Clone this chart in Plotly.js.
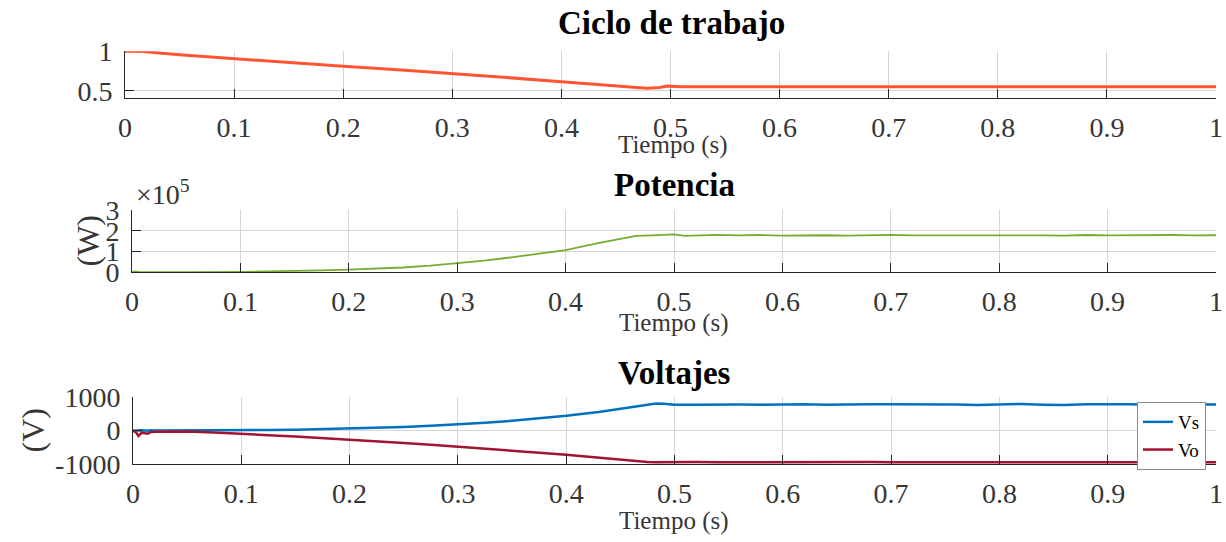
<!DOCTYPE html>
<html>
<head>
<meta charset="utf-8">
<script src="https://cdn.plot.ly/plotly-3.0.1.min.js"></script>
<style>
  html, body { margin: 0; padding: 0; background: #ffffff; }
  #chart { width: 1226px; height: 542px; }
</style>
</head>
<body>
<div id="chart"></div>
<script>
// ---- Duty cycle of the converter ----
const tDuty = [0, 0.016, 0.05, 0.1, 0.15, 0.2, 0.25, 0.3, 0.35, 0.4, 0.44, 0.465, 0.478, 0.49, 0.497, 0.51,
  0.543, 0.545, 0.55, 0.552, 0.6, 0.7, 0.743, 0.745, 0.748, 0.75, 0.779, 0.781, 0.788, 0.79,
  0.876, 0.878, 0.881, 0.883, 0.917, 0.919, 0.922, 0.928, 0.93, 0.933, 0.969, 0.971, 0.974, 0.976, 1.0];
const duty = [1.0, 0.998, 0.955, 0.905, 0.857, 0.81, 0.765, 0.72, 0.667, 0.614, 0.572, 0.545, 0.532, 0.54, 0.558, 0.551,
  0.551, 0.556, 0.556, 0.551, 0.551, 0.551, 0.551, 0.557, 0.557, 0.551, 0.551, 0.557, 0.557, 0.551,
  0.551, 0.557, 0.557, 0.551, 0.551, 0.557, 0.551, 0.551, 0.557, 0.551, 0.551, 0.557, 0.557, 0.551, 0.551];

// ---- Power (W) ----
const tPower = [0, 0.003, 0.008, 0.02, 0.05, 0.1, 0.125, 0.15, 0.175, 0.2, 0.225, 0.25, 0.275, 0.3, 0.325, 0.35, 0.375, 0.4, 0.43, 0.45, 0.465, 0.48, 0.49, 0.5, 0.51, 0.52,
  0.54, 0.56, 0.58, 0.6, 0.62, 0.64, 0.66, 0.68, 0.7, 0.72, 0.74, 0.76, 0.78, 0.8, 0.82, 0.84, 0.86, 0.88, 0.9, 0.92, 0.94, 0.96, 0.98, 1.0];
const power = [0, 4000, 1000, 500, 1000, 2000, 3500, 6000, 9000, 13000, 17500, 23000, 32000, 43000, 56000, 72000, 88000, 107000, 140000, 159000, 175000, 178000, 180000, 183000, 175000, 177000,
  180000, 178000, 179500, 177000, 179000, 178500, 176500, 179000, 180000, 177500, 178000, 179500, 177000, 178500, 180000, 178000, 177000, 179500, 178000, 179000, 177500, 179500, 178000, 178500];

// ---- Source and output voltages (V) ----
const tVolt = [0, 0.003, 0.005, 0.008, 0.0135, 0.017, 0.02, 0.03, 0.05, 0.08, 0.1, 0.125, 0.15, 0.175, 0.2, 0.225, 0.25, 0.275, 0.3, 0.325, 0.35, 0.375, 0.4, 0.43, 0.45, 0.465, 0.475, 0.483, 0.49, 0.5,
  0.52, 0.54, 0.56, 0.58, 0.6, 0.62, 0.64, 0.66, 0.68, 0.7, 0.72, 0.74, 0.76, 0.78, 0.8, 0.82, 0.84, 0.86, 0.88, 0.9, 0.92, 0.94, 0.96, 0.98, 1.0];
const vs = [0, 5, 0, 10, -5, 15, 5, 5, 5, 8, 10, 18, 30, 45, 65, 85, 110, 145, 185, 235, 295, 365, 445, 560, 650, 730, 785, 815, 810, 775,
  775, 790, 785, 780, 790, 795, 780, 775, 790, 795, 795, 800, 785, 770, 790, 800, 780, 770, 790, 800, 790, 780, 790, 795, 785];
const vo = [0, -60, -160, -60, -90, -40, -35, -30, -25, -60, -100, -135, -175, -220, -270, -320, -370, -425, -480, -540, -600, -660, -725, -810, -870, -920, -940, -945, -948, -945,
  -942, -947, -944, -948, -943, -946, -944, -948, -942, -946, -945, -943, -948, -944, -946, -942, -947, -945, -943, -948, -944, -946, -942, -947, -945];

// ---- Axis ticks ----
const timeTicks = [0, 0.1, 0.2, 0.3, 0.4, 0.5, 0.6, 0.7, 0.8, 0.9, 1];
const timeTickText = ['0', '0.1', '0.2', '0.3', '0.4', '0.5', '0.6', '0.7', '0.8', '0.9', '1'];
const dutyTicks = [0.5, 1];
const dutyTickText = ['0.5', '1'];
const powerTicks = [0, 100000, 200000, 300000];
const powerTickText = ['0', '1', '2', '3'];
const voltTicks = [-1000, 0, 1000];
const voltTickText = ['-1000', '0', '1000'];

const FONT = "'Liberation Serif', 'Times New Roman', serif";
const AXIS_DARK = '#262626';
const GRID = '#d6d6d6';
const LABEL = '#363636';
const W = 1226, H = 542;

function xAxis(left, anchor) {
  return {
    domain: [left / W, 1216 / W], anchor: anchor, range: [0, 1],
    tickvals: timeTicks, ticktext: timeTickText,
    showgrid: true, gridcolor: GRID, gridwidth: 1, zeroline: false,
    showline: true, linecolor: AXIS_DARK, linewidth: 1,
    ticks: 'inside', ticklen: 9, tickwidth: 1, tickcolor: AXIS_DARK,
    ticklabelstandoff: 4,
    tickfont: { family: FONT, size: 28, color: LABEL }
  };
}
function yAxis(top, bottom, range, vals, text, anchor) {
  return {
    domain: [(H - bottom) / H, (H - top) / H], anchor: anchor, range: range,
    tickvals: vals, ticktext: text,
    showgrid: true, gridcolor: GRID, gridwidth: 1, zeroline: false,
    showline: true, linecolor: AXIS_DARK, linewidth: 1,
    ticks: 'inside', ticklen: 9, tickwidth: 1, tickcolor: AXIS_DARK,
    ticklabelstandoff: 6,
    tickfont: { family: FONT, size: 28, color: LABEL }
  };
}

const traces = [
  { x: tDuty, y: duty, xaxis: 'x', yaxis: 'y', mode: 'lines', showlegend: false,
    line: { color: '#ff5533', width: 3 } },
  { x: tPower, y: power, xaxis: 'x2', yaxis: 'y2', mode: 'lines', showlegend: false,
    line: { color: '#77ac30', width: 1.8 } },
  { x: tVolt, y: vs, xaxis: 'x3', yaxis: 'y3', mode: 'lines', name: 'Vs',
    line: { color: '#0072bd', width: 2.5 } },
  { x: tVolt, y: vo, xaxis: 'x3', yaxis: 'y3', mode: 'lines', name: 'Vo',
    line: { color: '#a2142f', width: 2.5 } }
];

function label(text, x, y, size, opts) {
  return Object.assign({
    text: text, xref: 'paper', yref: 'paper', x: x / W, y: (H - y) / H,
    xanchor: 'center', yanchor: 'middle', showarrow: false,
    font: { family: FONT, size: size, color: '#000000' }
  }, opts || {});
}
const labelFont = (size) => ({ family: FONT, size: size, color: LABEL });

const layout = {
  width: W, height: H,
  margin: { l: 0, r: 0, t: 0, b: 0 },
  paper_bgcolor: '#ffffff', plot_bgcolor: '#ffffff',
  font: { family: FONT },
  xaxis: xAxis(125, 'y'),
  yaxis: yAxis(51.3, 98.3, [0.4035, 1], dutyTicks, dutyTickText, 'x'),
  xaxis2: xAxis(132, 'y2'),
  yaxis2: yAxis(210, 272.3, [0, 300000], powerTicks, powerTickText, 'x2'),
  xaxis3: xAxis(133, 'y3'),
  yaxis3: yAxis(397.3, 464, [-1000, 1000], voltTicks, voltTickText, 'x3'),
  showlegend: true,
  legend: {
    x: 1206 / W, y: (H - 402) / H, xanchor: 'right', yanchor: 'top',
    bgcolor: '#ffffff', bordercolor: '#8c8c8c', borderwidth: 1,
    font: { family: FONT, size: 19, color: '#000000' },
    tracegroupgap: 0
  },
  annotations: [
    label('<b>Ciclo de trabajo</b>', 671, 23, 33),
    label('<b>Potencia</b>', 674, 184.5, 33),
    label('<b>Voltajes</b>', 674.5, 373, 33),
    label('Tiempo (s)', 673, 145.5, 25, { font: labelFont(25) }),
    label('Tiempo (s)', 674, 322.5, 25, { font: labelFont(25) }),
    label('Tiempo (s)', 674.5, 521, 25, { font: labelFont(25) }),
    label('(W)', 87, 240.5, 32, { textangle: -90, font: labelFont(32) }),
    label('(V)', 32, 430.5, 32, { textangle: -90, font: labelFont(32) }),
    label('×10<sup>5</sup>', 134, 212, 28, { xanchor: 'left', yanchor: 'bottom', font: labelFont(28) })
  ]
};

Plotly.newPlot('chart', traces, layout, { displayModeBar: false, staticPlot: true });
</script>
</body>
</html>
